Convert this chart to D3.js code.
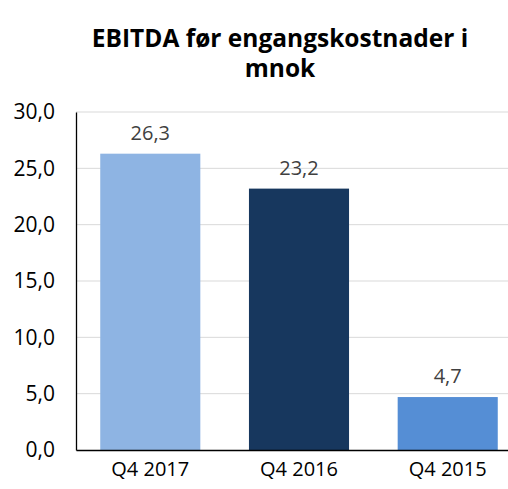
<!DOCTYPE html>
<html><head><meta charset="utf-8">
<script src="https://cdn.jsdelivr.net/npm/d3@7"></script>
<style>body{margin:0;background:#fff;overflow:hidden}svg{display:block}</style>
</head><body>
<script>
const categories = ["Q4 2017", "Q4 2016", "Q4 2015"];
const values = [26.3, 23.2, 4.7];
const colors = ["#8EB4E3", "#17375E", "#558ED5"];
const yTicks = [0, 5, 10, 15, 20, 25, 30];
const titleLines = ["EBITDA før engangskostnader i", "mnok"];

(function () {
const W = 508, H = 489;
const mLeft = 76, mRight = 522, mTop = 112, mBottom = 450;
const font = "'Open Sans', Lato, sans-serif";
const svg = d3.select("body").append("svg").attr("width", W).attr("height", H);

const x = d3.scaleBand().domain(categories).range([mLeft, mRight]).paddingInner(0.327).paddingOuter(0.163);
const y = d3.scaleLinear().domain([0, 30]).range([mBottom, mTop]);
const fmt = v => v.toFixed(1).replace(".", ",");

svg.append("g").selectAll("line").data(yTicks.filter(d => d > 0)).join("line")
  .attr("x1", mLeft).attr("x2", W).attr("y1", d => y(d)).attr("y2", d => y(d))
  .attr("stroke", "#D9D9D9").attr("stroke-width", 1);

const yAxis = svg.append("g").attr("transform", `translate(${mLeft},0)`)
  .call(d3.axisLeft(y).tickValues(yTicks).tickFormat(fmt).tickSize(0).tickPadding(21));
yAxis.select(".domain").attr("stroke", "#000").attr("stroke-width", 1.3);
yAxis.selectAll("text").attr("font-family", font).attr("font-size", 21).attr("fill", "#000");

svg.append("g").selectAll("rect").data(values).join("rect")
  .attr("x", (d, i) => x(categories[i])).attr("width", x.bandwidth())
  .attr("y", d => y(d)).attr("height", d => y(0) - y(d))
  .attr("fill", (d, i) => colors[i]);

const xAxis = svg.append("g").attr("transform", `translate(0,${mBottom})`)
  .call(d3.axisBottom(x).tickSize(0).tickPadding(12));
xAxis.select(".domain").attr("stroke", "#000").attr("stroke-width", 1.3);
xAxis.selectAll("text").attr("font-family", font).attr("font-size", 20).attr("fill", "#000");

svg.append("g").selectAll("text").data(values).join("text")
  .attr("x", (d, i) => x(categories[i]) + x.bandwidth() / 2)
  .attr("y", d => y(d) - 14)
  .attr("text-anchor", "middle").attr("font-family", font).attr("font-size", 20).attr("fill", "#404040")
  .text(fmt);

svg.append("g").selectAll("text").data(titleLines).join("text")
  .attr("x", 280).attr("y", (d, i) => 47 + i * 30)
  .attr("text-anchor", "middle").attr("font-family", font).attr("font-weight", "bold")
  .attr("font-size", 24.5).attr("fill", "#000").text(d => d);
})();
</script>
</body></html>
